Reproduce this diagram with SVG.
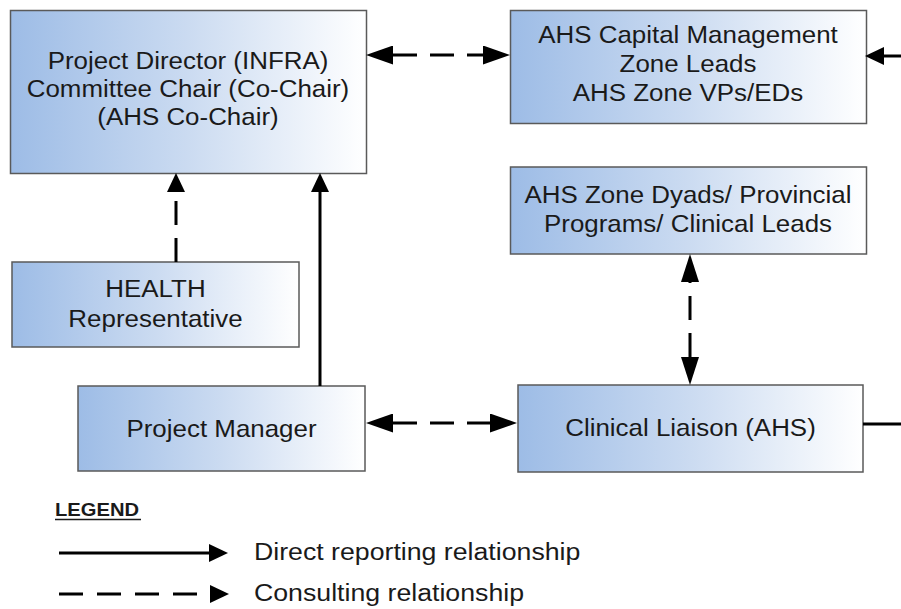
<svg xmlns="http://www.w3.org/2000/svg" width="901" height="609" viewBox="0 0 901 609">
<style>
.box{fill:url(#g);stroke:#5a5a5a;stroke-width:1.5}
.t{font-family:"Liberation Sans",Arial,sans-serif;font-size:24px;fill:#1a1a1a;text-anchor:middle}
.lt{font-family:"Liberation Sans",Arial,sans-serif;font-size:24.5px;fill:#1a1a1a}
.solid{stroke:#000;stroke-width:3;fill:none}
.dash{stroke:#000;stroke-width:3;fill:none;stroke-dasharray:24 13}
</style>
<defs>
<linearGradient id="g" x1="0" y1="0" x2="1" y2="0">
<stop offset="0" stop-color="#9dbce6"/>
<stop offset="0.5" stop-color="#cbdbf1"/>
<stop offset="1" stop-color="#ffffff"/>
</linearGradient>
<marker id="aL" viewBox="0 0 27 19" refX="0" refY="9.5" markerWidth="27" markerHeight="19" markerUnits="userSpaceOnUse" orient="auto-start-reverse"><path d="M0,0 L27,9.5 L0,19 Z" fill="#000"/></marker>
<marker id="aV" viewBox="0 0 28 18" refX="0" refY="9" markerWidth="28" markerHeight="18" markerUnits="userSpaceOnUse" orient="auto-start-reverse"><path d="M0,0 L28,9 L0,18 Z" fill="#000"/></marker>
<marker id="aS" viewBox="0 0 19 18" refX="0" refY="9" markerWidth="19" markerHeight="18" markerUnits="userSpaceOnUse" orient="auto-start-reverse"><path d="M0,0 L19,9 L0,18 Z" fill="#000"/></marker>
</defs>
<rect width="901" height="609" fill="#fff"/>

<g id="n-director">
<rect class="box" x="10.5" y="10.5" width="356" height="163"/>
<text class="t" transform="translate(188,69) scale(1.08 1)"><tspan x="0" y="0">Project Director (INFRA)</tspan><tspan x="0" y="28">Committee Chair (Co-Chair)</tspan><tspan x="0" y="56">(AHS Co-Chair)</tspan></text>
</g>
<g id="n-capital">
<rect class="box" x="510.5" y="10.5" width="356" height="113"/>
<text class="t" transform="translate(688,43) scale(1.08 1)"><tspan x="0" y="0">AHS Capital Management</tspan><tspan x="0" y="29">Zone Leads</tspan><tspan x="0" y="58">AHS Zone VPs/EDs</tspan></text>
</g>
<g id="n-dyads">
<rect class="box" x="510.5" y="167" width="356" height="87"/>
<text class="t" transform="translate(688,203) scale(1.08 1)"><tspan x="0" y="0">AHS Zone Dyads/ Provincial</tspan><tspan x="0" y="29">Programs/ Clinical Leads</tspan></text>
</g>
<g id="n-health">
<rect class="box" x="12" y="262" width="287" height="85"/>
<text class="t" transform="translate(155.5,297) scale(1.08 1)"><tspan x="0" y="0">HEALTH</tspan><tspan x="0" y="30">Representative</tspan></text>
</g>
<g id="n-pm">
<rect class="box" x="78" y="386" width="287" height="85"/>
<text class="t" transform="translate(221.5,437) scale(1.08 1)">Project Manager</text>
</g>
<g id="n-liaison">
<rect class="box" x="518" y="385" width="345" height="87"/>
<text class="t" transform="translate(690.5,436) scale(1.08 1)">Clinical Liaison (AHS)</text>
</g>

<g id="connectors">
<path class="dash" d="M393,55 L483,55" marker-start="url(#aL)" marker-end="url(#aL)"/>
<path class="solid" d="M901,56 L884,56" marker-end="url(#aS)"/>
<path class="dash" d="M176,262 L176,192" marker-end="url(#aS)"/>
<path class="solid" d="M320,386 L320,192" marker-end="url(#aS)"/>
<path class="dash" d="M690,357 L690,282" marker-start="url(#aV)" marker-end="url(#aV)"/>
<path class="dash" d="M393,423 L490,423" marker-start="url(#aL)" marker-end="url(#aL)"/>
<path class="solid" d="M863,424 L901,424"/>
</g>

<g id="legend">
<text transform="translate(55,516) scale(1.12 1)" style="font-family:'Liberation Sans',Arial,sans-serif;font-size:18px;font-weight:bold;fill:#1a1a1a">LEGEND</text>
<line x1="55" y1="519.5" x2="141" y2="519.5" stroke="#1a1a1a" stroke-width="1.5"/>
<path class="solid" d="M59,553 L209,553" stroke-width="2.5" marker-end="url(#aS)"/>
<path class="dash" d="M59,594 L210,594" stroke-width="2.5" style="stroke-dasharray:24 14" marker-end="url(#aS)"/>
<text class="lt" transform="translate(254,560) scale(1.09 1)">Direct reporting relationship</text>
<text class="lt" transform="translate(254,601) scale(1.09 1)">Consulting relationship</text>
</g>
</svg>
